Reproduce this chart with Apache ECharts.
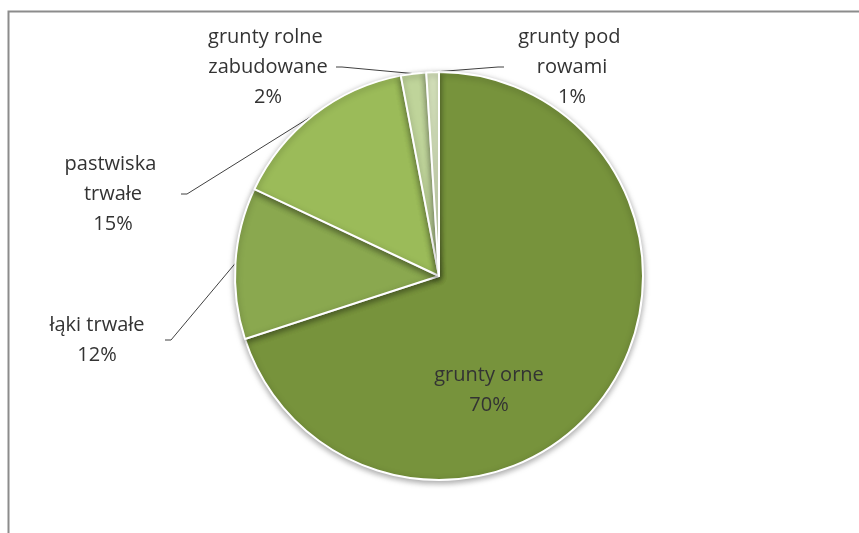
<!DOCTYPE html>
<html>
<head>
<meta charset="utf-8">
<script src="https://cdn.jsdelivr.net/npm/echarts@6/dist/echarts.min.js"></script>
<style>
html,body{margin:0;padding:0;background:#fff;}
#chart{width:859px;height:533px;}
</style>
</head>
<body>
<div id="chart"></div>
<script>
var categories = ['grunty orne', 'łąki trwałe', 'pastwiska trwałe', 'grunty rolne zabudowane', 'grunty pod rowami'];
var values = [70, 12, 15, 2, 1];
var colors = ['#77933C', '#8AA84F', '#9BBB59', '#BFD49A', '#D7E4BD'];
var labelSpots = [[489, 390], [97, 340], [113, 194], [268, 67], [572, 67]];

var chart = echarts.init(document.getElementById('chart'), null, {renderer: 'canvas'});
chart.setOption({
  animation: false,
  graphic: [{
    type: 'rect', left: 6, top: 9, z: -1,
    shape: {width: 1000, height: 1000},
    style: {fill: 'none', stroke: '#8c8c8c', lineWidth: 2}
  }],
  series: [{
    type: 'pie',
    center: [439, 276],
    radius: [0, 204],
    startAngle: 90,
    clockwise: true,
    percentPrecision: 0,
    avoidLabelOverlap: false,
    itemStyle: {borderColor: '#fff', borderWidth: 2, shadowBlur: 6, shadowColor: 'rgba(0,0,0,0.35)', shadowOffsetY: 2},
    label: {
      show: true,
      position: 'outside',
      formatter: '{b}\n{d}%',
      fontFamily: 'Open Sans',
      fontSize: 20,
      lineHeight: 30,
      color: '#333333',
      width: 136,
      overflow: 'break',
      align: 'center'
    },
    labelLine: {show: true, length: 10, length2: 6, lineStyle: {color: '#404040', width: 1}},
    labelLayout: function (p) {
      var s = labelSpots[p.dataIndex];
      return {x: s[0], y: s[1], align: 'center', verticalAlign: 'middle'};
    },
    emphasis: {disabled: true},
    data: categories.map(function (c, i) {
      var d = {name: c, value: values[i], itemStyle: {color: colors[i]}};
      if (i === 0) { d.labelLine = {show: false}; }
      return d;
    })
  }]
});
</script>
</body>
</html>
